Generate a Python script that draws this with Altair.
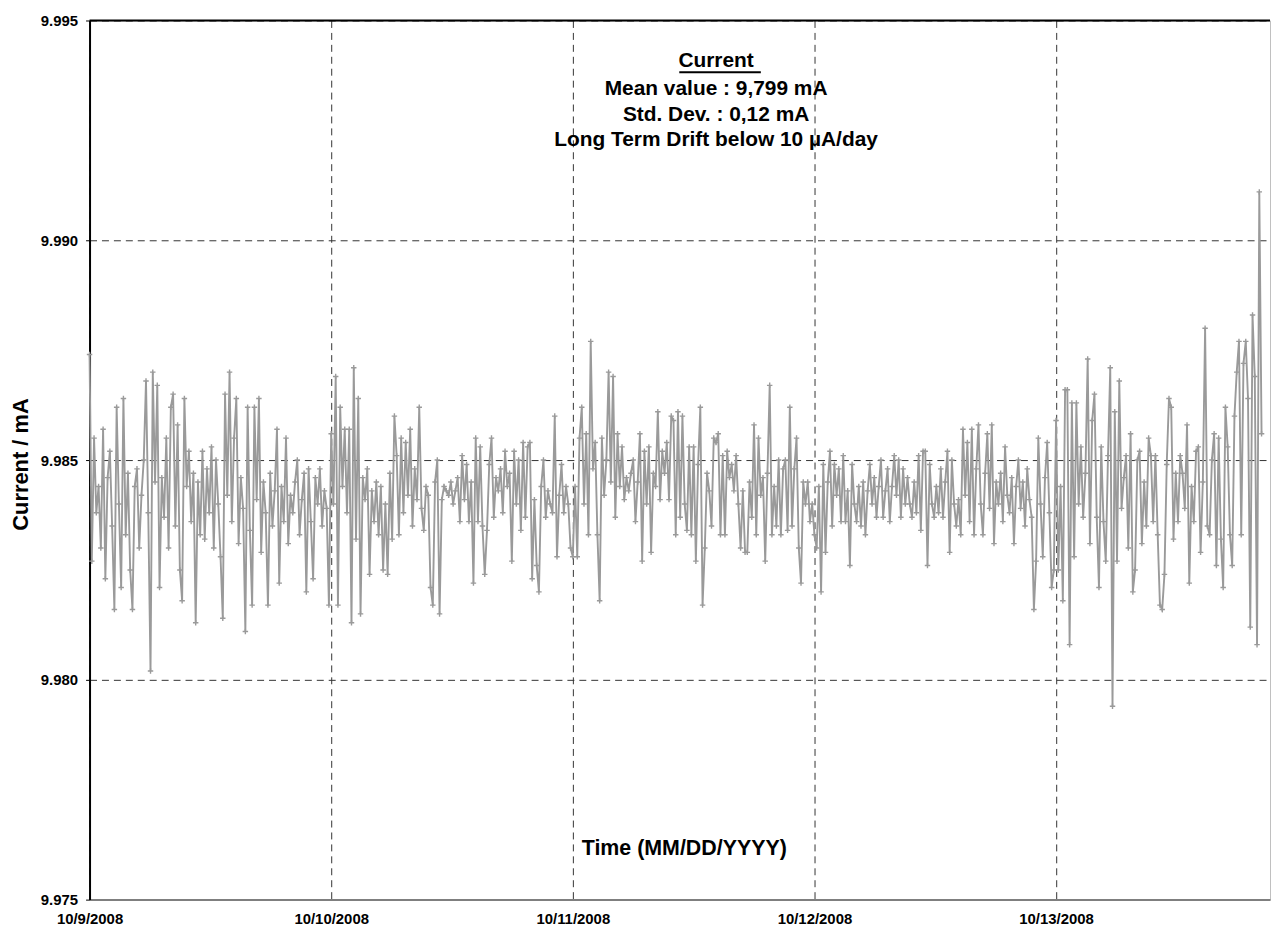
import altair as alt
import pandas as pd

# Values are in units of 0.0001 mA above 9.98 mA
BASE = 9.98
UNIT = 0.0001
START = pd.Timestamp("2008-10-09")

day1 = [74, 27, 55, 38, 44, 30, 57, 23, 46, 52,
        35, 16, 62, 40, 21, 64, 33, 47, 25, 16,
        44, 48, 30, 42, 50, 68, 38, 2, 70, 45,
        67, 21, 46, 37, 55, 30, 62, 65, 35, 58,
        25, 18, 64, 44, 52, 36, 47, 13, 45, 33,
        52, 32, 48, 38, 53, 30, 50, 40, 28, 14,
        65, 42, 70, 36, 55, 64, 31, 46, 39, 11,
        62, 34, 17, 62, 41, 64, 29, 45, 38, 17,
        47, 35, 43, 57, 22, 44, 36, 55, 31, 42,
        38, 45, 50, 33, 41, 47, 20, 48, 36, 23,
        46, 40, 48, 35, 43, 39, 17]

day2 = [56, 40, 69, 17, 62, 44, 57, 38, 57, 13,
        71, 32, 64, 15, 46, 41, 48, 24, 43, 36,
        45, 33, 44, 25, 40, 24, 47, 32, 60, 51,
        33, 55, 38, 54, 42, 57, 35, 48, 41, 62,
        39, 34, 44, 42, 21, 17, 45, 50, 15, 41,
        44, 43, 42, 45, 40, 43, 46, 36, 51, 41,
        49, 36, 45, 22, 55, 36, 53, 35, 24, 34,
        49, 55, 37, 46, 43, 48, 38, 52, 44, 47,
        27, 52, 40, 50, 34, 54, 37, 53, 54, 23,
        41, 26, 20, 44, 50, 37, 43, 40, 38, 60,
        28, 42, 49, 38, 44, 40, 30]

day3 = [28, 44, 28, 55, 62, 40, 56, 33, 77, 48,
        54, 33, 18, 55, 42, 50, 70, 45, 69, 37,
        56, 44, 53, 41, 46, 43, 47, 50, 36, 45,
        56, 27, 52, 40, 53, 29, 47, 44, 61, 41,
        52, 47, 54, 41, 60, 59, 33, 61, 37, 60,
        40, 34, 53, 33, 53, 27, 49, 62, 17, 30,
        47, 43, 35, 55, 54, 56, 33, 51, 33, 52,
        46, 49, 43, 51, 40, 30, 43, 29, 29, 45,
        37, 58, 33, 55, 42, 46, 27, 47, 67, 33,
        44, 35, 50, 33, 48, 50, 34, 62, 35, 48,
        55, 30, 22, 45, 40, 45, 36, 40]

day4 = [33, 30, 44, 20, 49, 29, 45, 52, 35, 49,
        42, 48, 36, 51, 36, 43, 26, 49, 40, 36,
        44, 35, 45, 33, 43, 49, 40, 46, 37, 44,
        50, 37, 43, 48, 36, 44, 51, 42, 50, 37,
        48, 40, 46, 40, 37, 45, 38, 51, 34, 52,
        52, 26, 49, 40, 37, 44, 38, 48, 37, 45,
        52, 29, 50, 40, 35, 41, 33, 57, 42, 54,
        36, 57, 33, 48, 58, 40, 33, 47, 56, 39,
        58, 31, 45, 40, 47, 36, 53, 42, 38, 46,
        31, 44, 50, 39, 45, 35, 48, 41, 37, 16,
        27, 55, 40, 28, 46, 54, 38, 21, 25]

day5 = [59, 25, 44, 18, 66, 66, 8, 63, 28, 63,
        40, 53, 37, 47, 73, 31, 59, 65, 37, 21,
        53, 36, 27, 51, 71, -6, 61, 27, 68, 39,
        46, 51, 30, 56, 20, 25, 50, 52, 31, 45,
        35, 55, 51, 36, 51, 33, 17, 16, 24, 49,
        64, 62, 32, 47, 36, 51, 47, 39, 58, 22,
        44, 36, 52, 53, 29, 45, 80, 35, 33, 50,
        56, 26, 55, 32, 21, 62, 53, 33, 26, 60,
        70, 77, 33, 72, 77, 64, 12, 83, 69, 8,
        111, 56]

DAYS = [day1, day2, day3, day4, day5]
SAMPLES_PER_DAY = 107  # sampling rate used for the last, partial day

rows = []
for d, vals in enumerate(DAYS):
    n = len(vals) if d < 4 else SAMPLES_PER_DAY
    for i, u in enumerate(vals):
        t = START + pd.Timedelta(days=d) + pd.Timedelta(days=1) * i / n
        rows.append({"time": t.strftime("%Y-%m-%dT%H:%M:%S"),
                     "current": round(BASE + u * UNIT, 4)})
df = pd.DataFrame(rows)

TICK_DAYS = [9, 10, 11, 12, 13]
Y_TICKS = [9.975, 9.980, 9.985, 9.990, 9.995]
ANNOT = ["Current", "Mean value : 9,799 mA", "Std. Dev. : 0,12 mA",
         "Long Term Drift below 10 \u00b5A/day"]
X_TITLE = "Time (MM/DD/YYYY)"

W, H = 1187, 884
FONT = "Liberation Sans"
GRAY = "#9a9a9a"

x_enc = alt.X(
    "time:T",
    scale=alt.Scale(domain=[alt.DateTime(year=2008, month=10, date=9),
                            alt.DateTime(year=2008, month=10, date=13, hours=21, minutes=15)]),
    axis=alt.Axis(values=[alt.DateTime(year=2008, month=10, date=k) for k in TICK_DAYS],
                  format="%-m/%-d/%Y", title=None, labelFlush=False, ticks=False,
                  labelPadding=12, labelFontSize=15, labelFontWeight="bold",
                  labelColor="black", domainColor="#7f7f7f", domainWidth=2,
                  grid=True, gridDash=[7, 5], gridColor="#333333", gridWidth=1),
)
y_enc = alt.Y(
    "current:Q",
    scale=alt.Scale(domain=[9.975, 9.995], nice=False, zero=False),
    axis=alt.Axis(values=Y_TICKS, format=".3f", title="Current  / mA",
                  titleFontSize=22, titleFontWeight="bold", titleX=-69, titleY=446,
                  titleAlign="center", titleBaseline="middle", titleAngle=270,
                  labelFontSize=15, labelFontWeight="bold", labelColor="black",
                  labelPadding=8, tickSize=4, tickColor="black", tickWidth=1,
                  domainColor="black", domainWidth=2,
                  grid=True, gridDash=[7, 5], gridColor="#333333", gridWidth=1),
)

base = alt.Chart(df)
line = base.mark_line(color=GRAY, strokeWidth=1.9).encode(x=x_enc, y=y_enc)
pts = base.mark_point(shape="M-1,0L1,0M0,-1L0,1", filled=False, size=30,
                      color=GRAY, strokeWidth=1.4, opacity=1).encode(x="time:T", y="current:Q")

layers = [line, pts]
ann_y = [47, 75, 101, 126]  # alphabetic baselines, plot pixels
for txt, yy in zip(ANNOT, ann_y):
    layers.append(
        alt.Chart(pd.DataFrame({"t": [txt]})).mark_text(
            fontSize=21, fontWeight="bold", color="black", align="center", baseline="alphabetic"
        ).encode(text="t:N", x=alt.value(630), y=alt.value(yy))
    )
layers.append(
    alt.Chart(pd.DataFrame({"t": [ANNOT[0]]})).mark_rule(color="black", strokeWidth=2).encode(
        x=alt.value(593), x2=alt.value(675), y=alt.value(52))
)
layers.append(
    alt.Chart(pd.DataFrame({"t": [X_TITLE]})).mark_text(
        fontSize=21.5, fontWeight="bold", color="black", align="center", baseline="alphabetic"
    ).encode(text="t:N", x=alt.value(598), y=alt.value(839))
)
layers.append(
    alt.Chart(pd.DataFrame({"t": [0]})).mark_rule(color="black", strokeWidth=2).encode(
        x=alt.value(0), x2=alt.value(W), y=alt.value(0))
)

chart = alt.layer(*layers).properties(
    width=W, height=H,
    autosize=alt.AutoSizeParams(type="none"),
    padding={"left": 82, "top": 10, "right": 1, "bottom": 30},
).configure(font=FONT).configure_view(stroke="#c0c0c0", strokeWidth=1)

chart.save("out.html", embed_options={"renderer": "svg", "actions": False})
